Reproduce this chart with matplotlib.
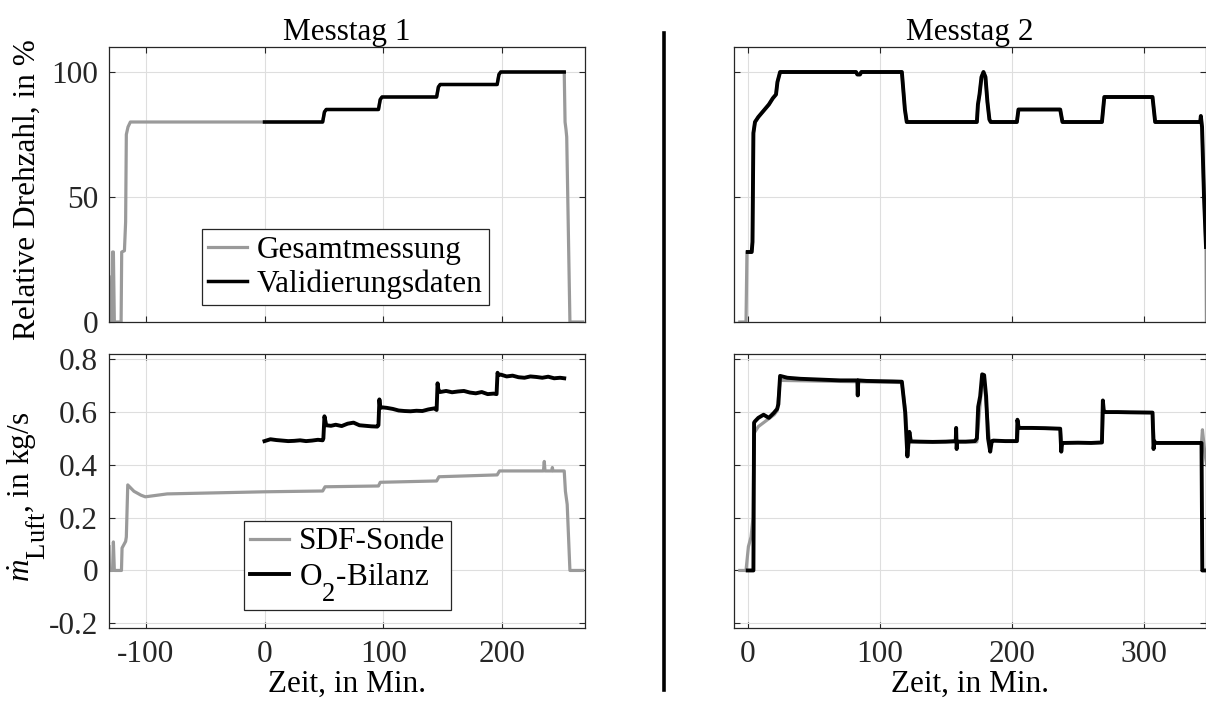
import matplotlib
matplotlib.use("Agg")
import matplotlib.pyplot as plt
import matplotlib._mathtext as mathtext_internal
from matplotlib.lines import Line2D

# --- Messtag 1: Drehzahl ---
t1_pre = [-131, -130.6, -128.6, -128, -127.3, -126.5, -120.8, -120.3, -118, -117, -116.4, -115, -113]
n1_pre = [18, 0, 0, 28, 28, 0, 0, 28, 28.5, 40, 75, 78, 80]
t1_val = [0, 49, 50.5, 52, 96, 97.5, 99, 145, 146.5, 148, 196, 197.5, 199, 252.5]
n1_val = [80, 80, 84, 85, 85, 89, 90, 90, 94, 95, 95, 99, 100, 100]
t1_post = [253.2, 254, 254.6, 257.3, 268]
n1_post = [80, 77, 74, 0, 0]

# --- Messtag 1: Luftmassenstrom ---
t1_sdf = [-131, -130.6, -128, -127.3, -126.5, -120.5, -120, -117, -116.4, -115.2, -110, -104, -100.4,
          -82, 0, 49, 51, 96, 97.5, 145, 147, 196, 198, 235, 235.7, 236.3, 242, 242.5, 243,
          252.5, 253.5, 255, 257.3, 268]
m1_sdf = [0.09, 0.0, 0.0, 0.108, 0.0, 0.0, 0.085, 0.11, 0.127, 0.324, 0.30, 0.285, 0.279,
          0.29, 0.298, 0.301, 0.317, 0.32, 0.334, 0.339, 0.355, 0.362, 0.377, 0.377, 0.413, 0.377, 0.377, 0.39, 0.377,
          0.377, 0.30, 0.25, 0.0, 0.0]
t1_o2 = [0, 5, 10, 15, 20, 25, 30, 35, 40, 45, 49,
         49.6, 50.5, 52, 56, 60, 65, 70, 75, 80, 85, 90, 95, 96,
         96.8, 97.5, 99, 103, 108, 113, 118, 123, 128, 133, 138, 143, 145,
         145.8, 146.5, 148, 153, 158, 163, 168, 173, 178, 183, 188, 193, 195.5,
         196.3, 197, 199, 204, 209, 214, 219, 224, 229, 234, 239, 244, 249, 252.5]
m1_o2 = [0.49, 0.497, 0.494, 0.492, 0.49, 0.491, 0.493, 0.49, 0.492, 0.495, 0.493,
         0.50, 0.584, 0.55, 0.548, 0.552, 0.547, 0.556, 0.56, 0.55, 0.548, 0.546, 0.545, 0.55,
         0.648, 0.615, 0.618, 0.616, 0.612, 0.606, 0.604, 0.603, 0.605, 0.604, 0.61, 0.614, 0.608,
         0.709, 0.685, 0.676, 0.68, 0.675, 0.678, 0.68, 0.674, 0.671, 0.676, 0.668, 0.67, 0.668,
         0.749, 0.74, 0.742, 0.735, 0.738, 0.732, 0.73, 0.735, 0.733, 0.73, 0.734, 0.728, 0.73, 0.728]

# --- Messtag 2: Drehzahl ---
t2_pre = [-6, -1.3, -0.6]
n2_pre = [0, 0, 28]
t2_val = [0, 3, 3.6, 4.3, 5.5, 8, 12, 16, 19, 21.4, 22.5, 24.5,
          60, 82, 83, 85, 86, 116.7, 119, 120.4,
          173.5, 174.3, 175.5, 177, 178.5, 180, 181.5, 183, 184,
          203.8, 205, 236.6, 238.3, 268.2, 270, 306.5, 308.5,
          342.6, 343.1, 344, 345.5, 347]
n2_val = [28, 28, 32, 75.6, 80, 82, 84.5, 87, 89.5, 91, 96, 100,
          100, 100, 99, 99, 100, 100, 85, 80,
          80, 87, 91, 98, 100, 98, 88, 81, 80,
          80, 85, 85, 80, 80, 90, 90, 80,
          80, 82.4, 78, 50, 30]
t2_post = [347.3, 350]
n2_post = [0, 0]

# --- Messtag 2: Luftmassenstrom ---
t2_sdf = [-6, -1.3, 0.5, 2.5, 4.0, 4.8, 8, 12, 16, 20, 22.3, 24.5,
          116.7, 119.5, 121, 173.5, 177.5, 179, 183, 187, 204.2, 205,
          236.6, 237.8, 268.2, 269.2, 306.5, 307.8, 343.6, 344.3, 346, 347.5]
m2_sdf = [0, 0, 0.09, 0.127, 0.2, 0.52, 0.545, 0.56, 0.575, 0.59, 0.605, 0.72,
          0.712, 0.6, 0.487, 0.487, 0.72, 0.72, 0.49, 0.49, 0.49, 0.54,
          0.537, 0.484, 0.484, 0.6, 0.598, 0.484, 0.484, 0.533, 0.45, 0.4]
t2_o2 = [0, 4.3, 4.8, 5.5, 8, 12, 16, 19.8, 22.3, 23.2, 24.5,
         30, 40, 50, 60, 70, 80, 83.0, 83.3, 83.7, 90, 100, 110, 116.7,
         119.2, 120.9, 122.4, 123.5, 130, 140, 150, 157.5, 157.8, 158.2, 158.6,
         165, 172, 173.5, 174.5, 176, 177.5, 179, 180.5, 182, 183.6, 184.8, 186,
         195, 203.8, 204.2, 205.2, 215, 225, 236.6, 237.4, 238, 238.8,
         250, 260, 268.2, 268.9, 269.6, 270.5, 280, 290, 306.5, 307.3, 307.9, 308.6,
         320, 330, 343.6, 344.2, 347.5]
m2_o2 = [0, 0, 0.56, 0.565, 0.578, 0.59, 0.578, 0.597, 0.612, 0.63, 0.737,
         0.73, 0.726, 0.724, 0.722, 0.72, 0.72, 0.72, 0.663, 0.72, 0.718, 0.717, 0.716, 0.715,
         0.6, 0.432, 0.525, 0.489, 0.488, 0.487, 0.488, 0.49, 0.54, 0.46, 0.488,
         0.488, 0.49, 0.5, 0.62, 0.66, 0.743, 0.74, 0.66, 0.5, 0.45, 0.49, 0.492,
         0.49, 0.49, 0.571, 0.54, 0.54, 0.539, 0.537, 0.45, 0.48, 0.483,
         0.484, 0.483, 0.485, 0.644, 0.605, 0.6, 0.6, 0.599, 0.598, 0.46, 0.49, 0.483,
         0.483, 0.483, 0.483, 0.0, 0.0]

# Achsen / Beschriftungen
xticks_1 = [-100, 0, 100, 200]
xticks_2 = [0, 100, 200, 300]
yticks_n = [0, 50, 100]
yticks_m = [-0.2, 0, 0.2, 0.4, 0.6, 0.8]
ytick_m_labels = ["-0.2", "0", "0.2", "0.4", "0.6", "0.8"]

GRAY = "#9a9a9a"
BLACK = "#000000"

# Tiefgestellte Zeichen groesser und tiefer, wie im MATLAB-Original
mathtext_internal.SHRINK_FACTOR = 0.85
mathtext_internal.FontConstantsBase.sub1 = 1.1
mathtext_internal.FontConstantsBase.subdrop = 1.1

plt.rcParams["font.family"] = ["Liberation Serif", "DejaVu Serif"]
plt.rcParams["font.size"] = 22.5
plt.rcParams["mathtext.fontset"] = "custom"
plt.rcParams["mathtext.rm"] = "Liberation Serif"
plt.rcParams["mathtext.it"] = "Liberation Serif:italic"
plt.rcParams["axes.unicode_minus"] = False

fig = plt.figure(figsize=(12.06, 7.16), dpi=100)
W, H = 1206, 716


def make_ax(x0, y0, x1, y1):
    return fig.add_axes([x0 / W, 1 - y1 / H, (x1 - x0) / W, (y1 - y0) / H])


ax_n1 = make_ax(109, 47, 585, 322)
ax_m1 = make_ax(109, 354, 585, 628)
ax_n2 = make_ax(734, 47, 1206, 322)
ax_m2 = make_ax(734, 354, 1206, 628)

for ax in [ax_n1, ax_m1, ax_n2, ax_m2]:
    ax.grid(True, color="#dedede", lw=0.8)
    ax.set_axisbelow(True)
    ax.tick_params(direction="in", length=4, width=0.8, color="#262626",
                   top=True, right=True, labelcolor="#262626")
    ax.tick_params(axis="x", pad=9)
    ax.tick_params(axis="y", pad=8)
    for s in ax.spines.values():
        s.set_color("#262626")
        s.set_linewidth(0.9)

# Messtag 1
ax_n1.plot(t1_pre + t1_val + t1_post, n1_pre + n1_val + n1_post, color=GRAY, lw=2.3, label="Gesamtmessung")
ax_n1.plot(t1_val, n1_val, color=BLACK, lw=2.5, label="Validierungsdaten")
ax_m1.plot(t1_sdf, m1_sdf, color=GRAY, lw=2.3, label="SDF-Sonde")
ax_m1.plot(t1_o2, m1_o2, color=BLACK, lw=2.8, label=r"O$_2$-Bilanz")

# Messtag 2
ax_n2.plot(t2_pre + t2_val + t2_post, n2_pre + n2_val + n2_post, color=GRAY, lw=2.3)
ax_n2.plot(t2_val, n2_val, color=BLACK, lw=2.8)
ax_m2.plot(t2_sdf, m2_sdf, color=GRAY, lw=2.3)
ax_m2.plot(t2_o2, m2_o2, color=BLACK, lw=2.8)

for ax in [ax_n1, ax_m1]:
    ax.set_xlim(-131, 270)
    ax.set_xticks(xticks_1)
for ax in [ax_n2, ax_m2]:
    ax.set_xlim(-10.4, 347)
    ax.set_xticks(xticks_2)
for ax in [ax_n1, ax_n2]:
    ax.set_ylim(0, 110)
    ax.set_yticks(yticks_n)
    ax.tick_params(labelbottom=False)
for ax in [ax_m1, ax_m2]:
    ax.set_ylim(-0.218, 0.82)
    ax.set_yticks(yticks_m)
    ax.set_xlabel("Zeit, in Min.", labelpad=0)
ax_m1.set_yticklabels(ytick_m_labels)
ax_n2.tick_params(labelleft=False)
ax_m2.tick_params(labelleft=False)

ax_n1.set_title("Messtag 1", fontsize=22.5, pad=3.5)
ax_n2.set_title("Messtag 2", fontsize=22.5, pad=3.5)
ax_n1.set_ylabel("Relative Drehzahl, in %")
ax_n1.yaxis.set_label_coords(-0.142, 0.48)
ax_m1.set_ylabel(r"$\dot{m}_{\mathrm{Luft}}$, in kg/s")
ax_m1.yaxis.set_label_coords(-0.128, 0.48)

leg_kw = dict(loc="lower left", borderaxespad=0, fancybox=False, framealpha=1,
              edgecolor="#262626", handlelength=1.25, handletextpad=0.3,
              borderpad=0.2, labelspacing=0.15)
leg1 = ax_n1.legend(bbox_to_anchor=(0.195, 0.062), **leg_kw)
leg2 = ax_m1.legend(bbox_to_anchor=(0.284, 0.066), **leg_kw)
for leg in [leg1, leg2]:
    leg.get_frame().set_linewidth(0.9)

# Trennlinie zwischen den Messtagen
fig.add_artist(Line2D([663.5 / W, 663.5 / W], [1 - 690 / H, 1 - 33 / H],
                      transform=fig.transFigure, color="k", lw=2.6))

fig.savefig("out.png", dpi=100)
